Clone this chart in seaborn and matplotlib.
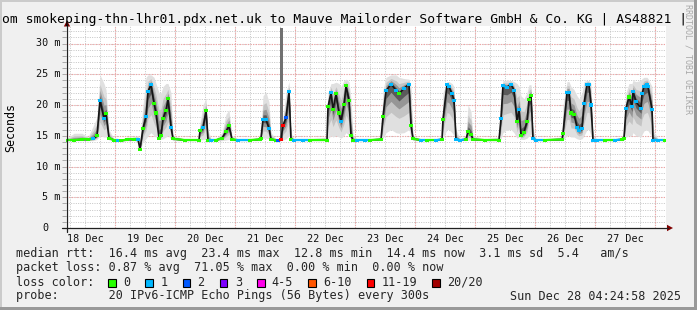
import matplotlib
matplotlib.use("Agg")
import matplotlib.pyplot as plt
import seaborn as sns
import numpy as np
import pandas as pd
from matplotlib.patches import Rectangle, Polygon
from matplotlib.lines import Line2D
import matplotlib.transforms as mtransforms

# ---------------- data ----------------
start = pd.Timestamp("2025-12-18 04:24:58")
end = pd.Timestamp("2025-12-28 04:24:58")

hours = [0.0, 3.2, 6.4, 8.8, 10.8, 12.4, 13.6, 15.2, 16.0, 17.2,
         19.2, 20.8, 22.0, 24.4, 27.2, 28.8, 29.6, 30.8, 32.0, 32.8,
         34.0, 35.2, 36.0, 37.2, 38.0, 38.8, 40.0, 40.8, 42.0, 42.8,
         47.6, 53.2, 53.6, 54.8, 56.0, 56.8, 58.0, 60.0, 62.4, 64.0,
         65.2, 66.4, 68.8, 73.6, 77.6, 78.0, 78.8, 80.0, 81.2, 82.0,
         84.0, 84.8, 86.0, 86.8, 88.0, 89.2, 90.0, 91.2, 94.8, 97.6,
         104.4, 104.8, 106.0, 106.8, 108.0, 109.2, 110.0, 111.2, 112.0, 113.2,
         114.0, 114.8, 116.4, 119.6, 121.6, 126.0, 126.8, 128.0, 130.0, 132.0,
         133.2, 135.2, 137.2, 138.0, 138.8, 142.0, 144.4, 148.0, 150.4, 150.8,
         152.4, 153.2, 154.4, 155.2, 156.0, 157.6, 160.0, 160.8, 162.0, 162.8,
         167.6, 173.2, 174.0, 174.8, 176.4, 178.0, 179.2, 180.4, 181.2, 182.0,
         183.2, 184.4, 185.2, 186.0, 186.8, 188.0, 191.6, 198.4, 198.8, 200.4,
         201.2, 202.0, 203.2, 204.4, 205.2, 206.4, 207.2, 208.4, 209.2, 210.0,
         210.8, 212.4, 215.6, 219.6, 222.4, 223.2, 224.0, 225.2, 226.4, 226.8,
         228.0, 230.0, 230.4, 231.2, 232.4, 232.8, 234.4, 234.8, 236.8, 239.6]

median_ms = [14.3, 14.3, 14.4, 14.4, 14.5, 15.0, 20.8, 17.8, 18.6, 14.6,
             14.3, 14.3, 14.2, 14.4, 14.4, 14.4, 12.8, 16.2, 18.1, 22.2,
             23.3, 20.3, 18.7, 14.6, 15.0, 17.8, 19.1, 21.0, 16.4, 14.5,
             14.3, 14.3, 15.8, 16.3, 19.1, 14.3, 14.3, 14.3, 14.6, 15.7,
             16.6, 14.4, 14.3, 14.3, 14.4, 14.6, 17.7, 17.6, 16.2, 14.4,
             14.3, 14.2, 14.4, 16.7, 17.9, 22.2, 14.4, 14.3, 14.3, 14.3,
             14.3, 19.7, 22.0, 19.2, 21.8, 18.7, 17.3, 20.1, 23.1, 20.8,
             15.0, 14.3, 14.3, 14.3, 14.3, 14.4, 18.1, 22.3, 23.4, 22.4,
             21.8, 22.7, 23.4, 16.6, 14.5, 14.3, 14.3, 14.3, 14.4, 17.7,
             23.3, 23.0, 21.8, 20.8, 14.4, 14.3, 14.4, 15.7, 15.2, 14.4,
             14.3, 14.3, 17.8, 23.1, 22.9, 23.4, 22.4, 17.3, 19.3, 15.0,
             15.6, 17.3, 20.9, 21.6, 14.5, 14.3, 14.3, 14.4, 15.4, 22.0,
             22.0, 18.7, 18.5, 16.4, 15.9, 16.2, 20.2, 23.4, 23.4, 20.0,
             14.3, 14.3, 14.3, 14.3, 14.4, 14.6, 19.5, 21.3, 19.8, 22.2,
             20.5, 19.5, 21.8, 23.0, 23.4, 23.0, 19.3, 14.3, 14.3, 14.3]

loss_class = [0, 0, 0, 0, 1, 0, 1, 1, 0, 0,
              0, 1, 0, 0, 0, 1, 0, 0, 1, 1,
              1, 0, 0, 0, 0, 0, 0, 0, 1, 0,
              0, 0, 0, 1, 0, 0, 1, 0, 0, 0,
              0, 0, 1, 0, 0, 0, 1, 1, 1, 0,
              0, 2, 6, 6, 2, 1, 0, 1, 1, 0,
              0, 0, 1, 0, 0, 0, 1, 0, 0, 0,
              0, 0, 1, 1, 0, 0, 0, 1, 1, 1,
              0, 1, 1, 0, 0, 1, 0, 1, 0, 0,
              1, 1, 1, 1, 1, 1, 0, 0, 0, 0,
              0, 0, 1, 1, 1, 1, 1, 0, 1, 0,
              0, 0, 0, 0, 1, 1, 0, 0, 0, 1,
              1, 0, 0, 1, 1, 1, 1, 1, 1, 1,
              1, 1, 0, 1, 0, 0, 1, 0, 1, 1,
              1, 1, 1, 1, 1, 1, 1, 1, 1, 0]

smoke_low = [14.2, 14.2, 14.2, 14.2, 14.2, 14.4, 15.0, 14.8, 14.8, 14.3,
             14.2, 14.2, 14.0, 14.2, 14.2, 14.0, 12.6, 14.0, 14.5, 15.0,
             15.5, 15.0, 14.8, 14.4, 14.4, 14.5, 14.8, 15.0, 14.5, 14.2,
             14.2, 14.2, 14.3, 14.4, 14.5, 14.2, 14.2, 14.2, 14.2, 14.3,
             14.4, 14.2, 14.2, 14.2, 14.2, 14.2, 14.6, 14.6, 14.5, 14.2,
             14.2, 14.0, 14.2, 14.3, 14.5, 15.0, 14.2, 14.2, 14.2, 14.2,
             14.2, 14.5, 15.0, 14.8, 15.0, 14.8, 14.6, 15.0, 15.5, 15.0,
             14.4, 14.2, 14.2, 14.2, 14.2, 14.2, 14.6, 15.5, 16.0, 15.5,
             15.4, 15.5, 16.0, 14.6, 14.2, 14.2, 14.2, 14.2, 14.2, 14.6,
             16.0, 16.0, 15.5, 15.0, 14.2, 14.2, 14.2, 14.3, 14.3, 14.2,
             14.2, 14.2, 14.5, 15.5, 16.0, 16.0, 15.5, 14.6, 14.8, 14.4,
             14.4, 14.6, 15.0, 15.2, 14.2, 14.2, 14.2, 14.2, 14.3, 15.0,
             15.0, 14.8, 14.8, 14.5, 14.4, 14.5, 15.0, 16.0, 16.0, 15.0,
             14.2, 14.2, 14.2, 14.2, 14.2, 14.2, 14.8, 15.0, 15.0, 15.5,
             15.0, 14.8, 15.2, 15.8, 16.0, 15.8, 14.8, 14.2, 14.2, 14.2]

smoke_high = [14.5, 15.4, 15.4, 14.8, 16.5, 18.0, 24.9, 23.5, 22.5, 16.0,
              14.5, 14.5, 14.5, 14.5, 14.8, 15.0, 14.5, 20.0, 24.5, 24.9,
              24.9, 24.5, 23.5, 22.0, 22.0, 23.0, 23.5, 23.5, 22.0, 15.0,
              14.5, 14.5, 17.0, 20.0, 21.1, 16.0, 14.5, 14.5, 15.5, 18.5,
              19.2, 15.0, 14.5, 14.5, 14.8, 16.0, 21.5, 22.1, 20.5, 15.5,
              14.5, 14.5, 15.0, 18.0, 22.0, 23.8, 15.5, 14.5, 14.5, 14.5,
              14.8, 22.0, 23.5, 23.5, 23.7, 23.5, 23.0, 24.0, 24.2, 23.8,
              21.0, 15.0, 14.5, 14.5, 14.5, 14.8, 22.5, 24.5, 24.9, 24.9,
              24.5, 24.3, 24.2, 23.0, 15.0, 14.5, 14.5, 14.5, 14.8, 22.0,
              23.8, 23.8, 23.5, 23.0, 16.0, 14.5, 15.0, 20.0, 19.0, 15.0,
              14.5, 14.8, 22.5, 24.0, 24.0, 24.0, 23.8, 23.5, 23.0, 21.5,
              21.0, 22.0, 23.3, 23.3, 16.0, 14.5, 14.5, 14.8, 20.0, 23.8,
              23.8, 23.0, 22.5, 21.5, 21.0, 22.0, 23.8, 24.0, 24.0, 23.5,
              15.0, 14.5, 14.5, 14.5, 14.8, 16.0, 22.0, 23.5, 23.5, 24.0,
              23.8, 24.0, 24.3, 24.5, 24.5, 24.3, 23.0, 16.0, 14.5, 14.5]

# single tall smoke column (hours since start, bottom, top in ms)
spike_hours = [85.6, 86.8]
spike_bottom = [14.5, 14.5]
spike_top = [32.5, 32.5]

day_labels = ["18 Dec", "19 Dec", "20 Dec", "21 Dec", "22 Dec",
              "23 Dec", "24 Dec", "25 Dec", "26 Dec", "27 Dec"]
y_ticks = [0, 5, 10, 15, 20, 25, 30]
y_labels = ["0", "5 m", "10 m", "15 m", "20 m", "25 m", "30 m"]

loss_labels = ["0", "1", "2", "3", "4-5", "6-10", "11-19", "20/20"]
loss_colors = ["#26ff00", "#00b8ff", "#0059ff", "#7e00ff",
               "#ff00ea", "#ff5500", "#ff0000", "#a10000"]

title_text = "om smokeping-thn-lhr01.pdx.net.uk to Mauve Mailorder Software GmbH & Co. KG | AS48821 |"
line_rtt = "median rtt:  16.4 ms avg  23.4 ms max  12.8 ms min  14.4 ms now  3.1 ms sd  5.4   am/s"
line_loss = "packet loss: 0.87 % avg  71.05 % max  0.00 % min  0.00 % now"
line_probe = "probe:       20 IPv6-ICMP Echo Pings (56 Bytes) every 300s"
stamp_text = "Sun Dec 28 04:24:58 2025"

assert len(hours) == len(median_ms) == len(loss_class) == len(smoke_low) == len(smoke_high)

df = pd.DataFrame({
    "time": start + pd.to_timedelta(hours, unit="h"),
    "median": median_ms,
    "loss": [loss_labels[i] for i in loss_class],
    "lo": smoke_low,
    "hi": smoke_high,
})

# ---------------- figure ----------------
W, H = 697, 310
MONO = "DejaVu Sans Mono"
sns.set_theme(style="white")
plt.rcParams["font.family"] = [MONO, "DejaVu Sans"]

fig = plt.figure(figsize=(W / 100, H / 100), dpi=100)
fig.patch.set_facecolor("#f0f0f0")


def fx(px):
    return px / W


def fy(py):
    return 1 - py / H


YTOP = (228 - 26) / 6.15
ax = fig.add_axes([fx(66), fy(228), fx(666) - fx(66), fy(26) - fy(228)])
ax.set_facecolor("white")
ax.set_xlim(start, end)
ax.set_ylim(0, YTOP)
for s in ax.spines.values():
    s.set_visible(False)

# grid
minor_times = pd.date_range("2025-12-18 06:00", "2025-12-28 00:00", freq="6h")
midnights = pd.date_range("2025-12-19 00:00", "2025-12-28 00:00", freq="D")
ax.vlines(minor_times, 0, YTOP, colors="#c4c4c4", linestyles=(0, (1, 1.4)), lw=0.7, zorder=0.5)
ax.hlines(np.arange(1, 33), start, end, colors="#c4c4c4", linestyles=(0, (1, 1.4)), lw=0.7, zorder=0.5)
ax.vlines(midnights, 0, YTOP, colors="#f3a0a0", linestyles=(0, (1, 1.4)), lw=0.8, zorder=0.6)
ax.hlines(y_ticks[1:], start, end, colors="#f3a0a0", linestyles=(0, (1, 1.4)), lw=0.8, zorder=0.6)

# smoke layers
t = df["time"]
med = df["median"].to_numpy()
lo = df["lo"].to_numpy()
hi = df["hi"].to_numpy()
for frac, col in zip([1.0, 0.62, 0.38, 0.18], ["#e0e0e0", "#c4c4c4", "#969696", "#5a5a5a"]):
    ax.fill_between(t, med - frac * (med - lo), med + frac * (hi - med),
                    color=col, lw=0, zorder=1)

spike_t = start + pd.to_timedelta(spike_hours, unit="h")
ax.fill_between(spike_t, spike_bottom, spike_top, color="#707070", lw=0, zorder=1.5)

# median line (black), colored flat parts and loss markers
sns.lineplot(data=df, x="time", y="median", color="#151515", lw=1.2,
             estimator=None, sort=False, ax=ax, zorder=2)
tt = t.to_numpy()
for i in range(len(df) - 1):
    if abs(med[i + 1] - med[i]) < 0.5:
        ax.plot([tt[i], tt[i + 1]], [med[i], med[i + 1]],
                color=loss_colors[loss_class[i]], lw=1.6,
                solid_capstyle="butt", zorder=3)
sns.scatterplot(data=df, x="time", y="median", hue="loss",
                palette=dict(zip(loss_labels, loss_colors)),
                marker="s", s=5, linewidth=0, legend=False, ax=ax, zorder=4)

ax.set_xlabel("")
ax.set_ylabel("")

# x tick labels at noon, midnight marks as minor ticks
noons = pd.date_range("2025-12-18 12:00", periods=len(day_labels), freq="D")
ax.set_xticks(noons)
ax.set_xticklabels(day_labels, family=MONO, fontsize=7.3, color="#111111")
ax.set_xticks(midnights, minor=True)
ax.tick_params(axis="x", which="major", length=0, pad=4.5)
ax.tick_params(axis="x", which="minor", length=2.5, width=0.7, color="#f08080", direction="out")
ax.set_yticks(y_ticks)
ax.set_yticks(np.arange(0, 33), minor=True)
ax.set_yticklabels([])
ax.tick_params(axis="y", which="both", length=3, width=0.6, color="#a0a0a0", direction="out", left=True)

# y tick labels (rrdtool style alignment)
ytrans = mtransforms.blended_transform_factory(fig.transFigure, ax.transData)
for v, lab in zip(y_ticks, y_labels):
    if v == 0:
        ax.text(fx(42), v, lab, transform=ytrans, ha="left", va="center",
                family=MONO, fontsize=7.3, color="#111111")
    else:
        ax.text(fx(60.5), v, lab, transform=ytrans, ha="right", va="center",
                family=MONO, fontsize=7.3, color="#111111")

# axes lines and arrows
fig.add_artist(Line2D([fx(62), fx(668)], [fy(228), fy(228)], color="#202020", lw=0.9))
fig.add_artist(Line2D([fx(67), fx(67)], [fy(232), fy(24)], color="#202020", lw=0.9))
fig.add_artist(Polygon([(fx(667), fy(224.8)), (fx(667), fy(231.2)), (fx(673), fy(228))],
                       closed=True, color="#800000", lw=0))
fig.add_artist(Polygon([(fx(63.8), fy(26.5)), (fx(70.2), fy(26.5)), (fx(67), fy(20.5))],
                       closed=True, color="#800000", lw=0))

# texts
fig.text(fx(1.7), fy(19.5), title_text, family=MONO, fontsize=9.35,
         ha="left", va="center", color="#000000")
fig.text(fx(11), fy(127), "Seconds", family=MONO, fontsize=8.4,
         rotation=90, ha="center", va="center", color="#000000")
fig.text(fx(688), fy(4), "RRDTOOL / TOBI OETIKER", family=MONO, fontsize=6,
         rotation=-90, ha="center", va="top", color="#a8a8a8")

LFS = 8.5
fig.text(fx(16), fy(254), line_rtt, family=MONO, fontsize=LFS, ha="left", va="center")
fig.text(fx(16), fy(268), line_loss, family=MONO, fontsize=LFS, ha="left", va="center")
fig.text(fx(16), fy(282), "loss color:", family=MONO, fontsize=LFS, ha="left", va="center")
fig.text(fx(16), fy(296), line_probe, family=MONO, fontsize=LFS, ha="left", va="center")
fig.text(fx(681), fy(296), stamp_text, family=MONO, fontsize=LFS, ha="right", va="center")

bx = 108.3
for lab, col in zip(loss_labels, loss_colors):
    fig.add_artist(Rectangle((fx(bx), fy(287.3)), 7.7 / W, 8 / H, facecolor=col,
                             edgecolor="black", lw=0.8))
    fig.text(fx(bx + 15), fy(282), lab, family=MONO, fontsize=LFS, ha="left", va="center")
    bx += 30 + len(lab) * 7.13

# frame
fig.add_artist(Rectangle((0, fy(2)), 1, 2 / H, facecolor="#cbcbcb", lw=0))
fig.add_artist(Rectangle((0, 0), 2 / W, 1, facecolor="#cbcbcb", lw=0))
fig.add_artist(Rectangle((fx(694), 0), 3 / W, 1, facecolor="#999999", lw=0))
fig.add_artist(Rectangle((0, 0), 1, 3 / H, facecolor="#999999", lw=0))

fig.savefig("out.png", dpi=100, facecolor=fig.get_facecolor())
